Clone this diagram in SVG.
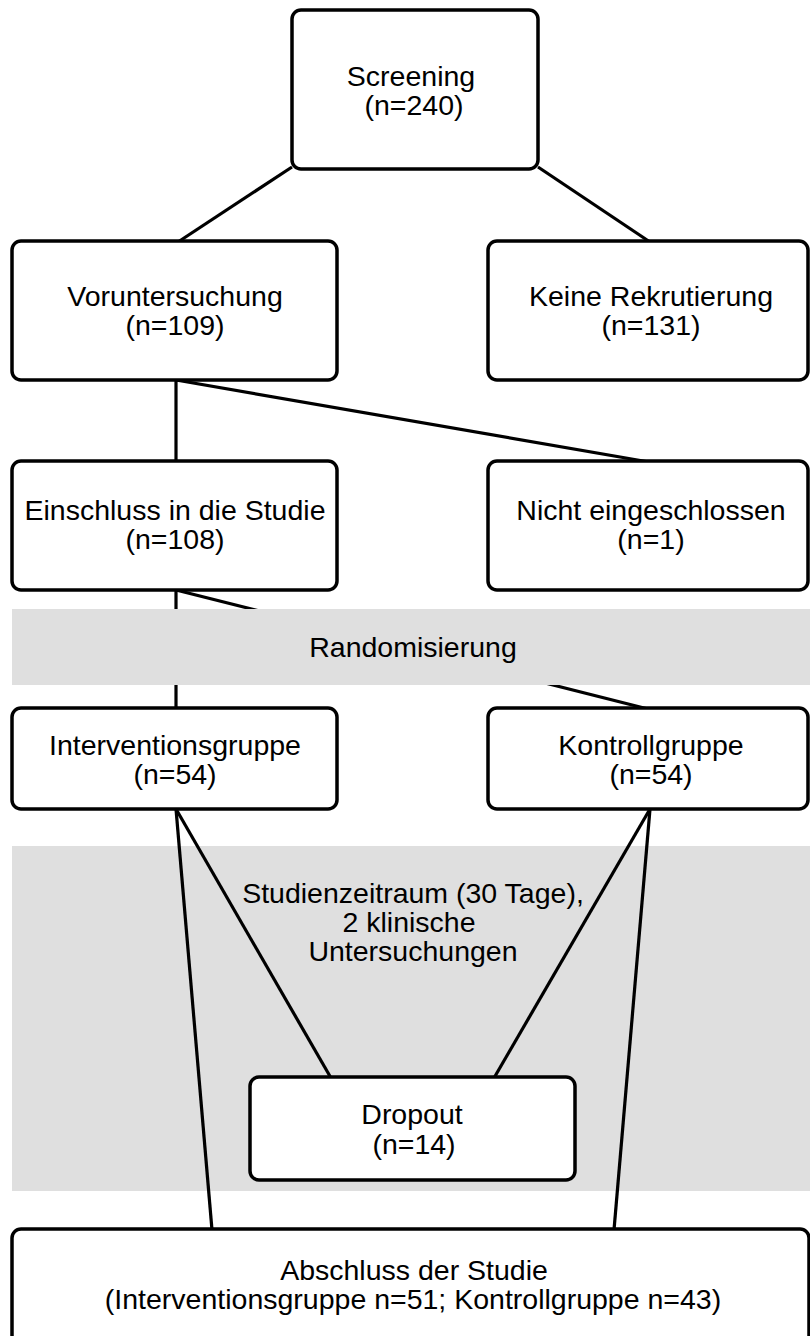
<svg xmlns="http://www.w3.org/2000/svg" width="810" height="1336" viewBox="0 0 810 1336">
<style>
.box{fill:#ffffff;stroke:#000000;stroke-width:3.5}
.band{fill:#dfdfdf;stroke:none}
.lbl{font-family:"Liberation Sans",Arial,Helvetica,sans-serif;font-size:28.5px;fill:#000000;text-anchor:middle}
.edge{stroke:#000000;stroke-width:3.2;fill:none;stroke-linecap:butt}
</style>
<rect width="810" height="1336" fill="#ffffff"/>
<g id="phase-studienzeitraum">
<rect class="band" x="12" y="846" width="798" height="345"/>
<text class="lbl" x="413" y="903">Studienzeitraum (30 Tage),</text>
<text class="lbl" x="409" y="932">2 klinische</text>
<text class="lbl" x="413" y="961">Untersuchungen</text>
</g>
<g id="connectors">
<line class="edge" x1="292" y1="167" x2="178" y2="242"/>
<line class="edge" x1="538" y1="167" x2="650" y2="242"/>
<line class="edge" x1="176" y1="380" x2="176" y2="462"/>
<line class="edge" x1="176" y1="380" x2="649" y2="462"/>
<line class="edge" x1="176" y1="590" x2="176" y2="709"/>
<line class="edge" x1="176" y1="590" x2="648" y2="709"/>
<line class="edge" x1="176" y1="809" x2="331" y2="1078"/>
<line class="edge" x1="176" y1="809" x2="212" y2="1230"/>
<line class="edge" x1="650" y1="809" x2="494" y2="1078"/>
<line class="edge" x1="650" y1="809" x2="614" y2="1230"/>
</g>
<g id="phase-randomisierung">
<rect class="band" x="12" y="609" width="798" height="76"/>
<text class="lbl" x="413" y="657">Randomisierung</text>
</g>
<g id="screening">
<rect class="box" x="292" y="10" width="246" height="159" rx="9"/>
<text class="lbl" x="411" y="86">Screening</text>
<text class="lbl" x="414" y="115">(n=240)</text>
</g>
<g id="voruntersuchung">
<rect class="box" x="12" y="241" width="325" height="139" rx="9"/>
<text class="lbl" x="175" y="306">Voruntersuchung</text>
<text class="lbl" x="175" y="335">(n=109)</text>
</g>
<g id="keine-rekrutierung">
<rect class="box" x="488" y="241" width="320" height="139" rx="9"/>
<text class="lbl" x="651" y="306">Keine Rekrutierung</text>
<text class="lbl" x="651" y="335">(n=131)</text>
</g>
<g id="einschluss">
<rect class="box" x="12" y="461" width="325" height="129" rx="9"/>
<text class="lbl" x="175" y="520">Einschluss in die Studie</text>
<text class="lbl" x="175" y="549">(n=108)</text>
</g>
<g id="nicht-eingeschlossen">
<rect class="box" x="488" y="461" width="320" height="129" rx="9"/>
<text class="lbl" x="651" y="520">Nicht eingeschlossen</text>
<text class="lbl" x="651" y="549">(n=1)</text>
</g>
<g id="interventionsgruppe">
<rect class="box" x="12" y="708" width="325" height="101" rx="9"/>
<text class="lbl" x="175" y="755">Interventionsgruppe</text>
<text class="lbl" x="175" y="784">(n=54)</text>
</g>
<g id="kontrollgruppe">
<rect class="box" x="488" y="708" width="320" height="101" rx="9"/>
<text class="lbl" x="651" y="755">Kontrollgruppe</text>
<text class="lbl" x="651" y="784">(n=54)</text>
</g>
<g id="dropout">
<rect class="box" x="250" y="1077" width="325" height="103" rx="9"/>
<text class="lbl" x="412" y="1124">Dropout</text>
<text class="lbl" x="414" y="1154">(n=14)</text>
</g>
<g id="abschluss">
<rect class="box" x="12" y="1229" width="797" height="140" rx="9"/>
<text class="lbl" x="414" y="1280">Abschluss der Studie</text>
<text class="lbl" x="413" y="1309">(Interventionsgruppe n=51; Kontrollgruppe n=43)</text>
</g>
</svg>
